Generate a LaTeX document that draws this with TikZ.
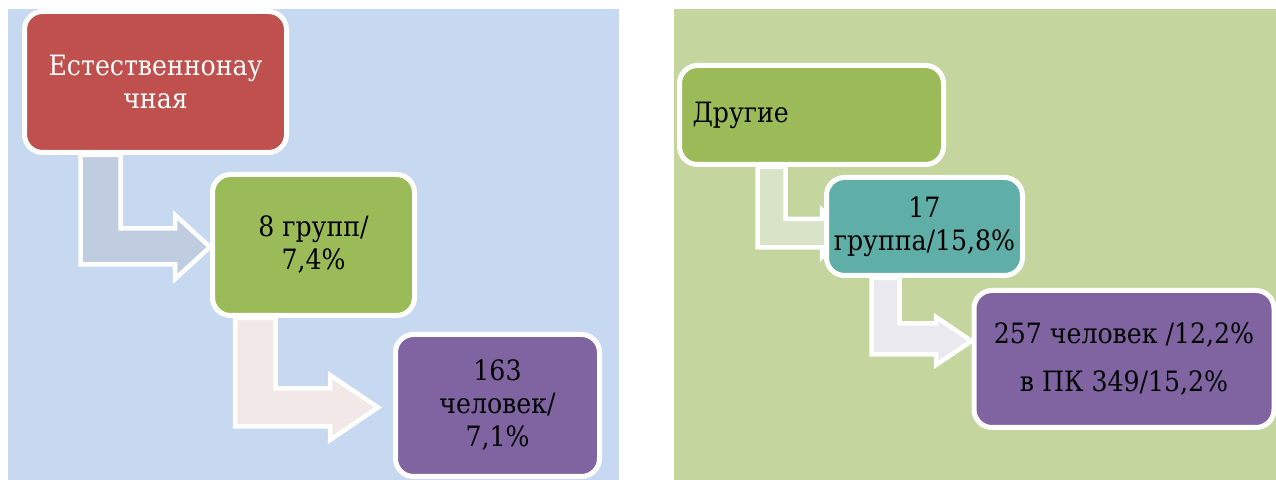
\documentclass[tikz,border=0pt]{standalone}
\usepackage{fontspec}
\setmainfont{DejaVu Serif}
\newfontfamily\boxfont{DejaVu Serif Condensed}
\usetikzlibrary{backgrounds}
\definecolor{leftbg}{RGB}{198,217,240}
\definecolor{rightbg}{RGB}{196,214,158}
\definecolor{boxred}{RGB}{192,80,77}
\definecolor{boxgreen}{RGB}{155,187,89}
\definecolor{boxpurple}{RGB}{128,100,162}
\definecolor{boxteal}{RGB}{95,174,167}
\definecolor{arrowblue}{RGB}{192,205,225}
\definecolor{arrowpink}{RGB}{242,232,232}
\definecolor{arrowgreen}{RGB}{216,227,200}
\definecolor{arrowlilac}{RGB}{235,233,240}
\tikzset{
  box/.style={draw=white, line width=2.5pt, rounded corners=9pt, align=center,
    font=\boxfont\fontsize{14}{16.5}\selectfont},
  blockarrow/.style={draw=white, line width=2.25pt, line join=miter},
}
\begin{document}
\begin{tikzpicture}[x=0.5pt, y=-0.5pt]
\useasboundingbox (0,0) rectangle (1276,480);
% Draw the boxes
        \node[box, fill=boxred, text=white, minimum width=131pt, minimum height=70.5pt] (nat) at (155.5,82) {Естественнонау\\чная};
        \node[box, fill=boxgreen, minimum width=101pt, minimum height=70.5pt] (natgr) at (313.5,245) {8 групп/\\7,4\%};
        \node[box, fill=boxpurple, minimum width=102pt, minimum height=71pt] (natppl) at (497.5,405.5) {163\\человек/\\7,1\%};
        \node[box, fill=boxgreen, align=left, text width=119pt, inner xsep=6.5pt, minimum height=49.5pt] (oth) at (811.5,115) {Другие};
        \node[box, fill=boxteal, minimum width=98pt, minimum height=49pt] (othgr) at (924.5,226.5) {17\\группа/15,8\%};
        \node[box, fill=boxpurple, minimum width=150pt, minimum height=68.5pt] (othppl) at (1124,359) {257 человек /12,2\%\\[7.5pt]в ПК 349/15,2\%};
% Draw the panels and arrows behind the boxes
\begin{scope}[on background layer]
        \fill[leftbg] (8,9) rectangle (619,480);
        \fill[rightbg] (674,9) rectangle (1276,480);
        \draw[blockarrow, fill=arrowblue] (80.5,0 |- nat.south) -- (80.5,264.5) -- (175,264.5) -- (175,279)
        -- ([yshift=-1pt]natgr.west) -- (175,215) -- (175,228.5) -- (120.5,228.5) -- (120.5,0 |- nat.south) -- cycle;
        \draw[blockarrow, fill=arrowpink] (235,0 |- natgr.south) -- (235,426.5) -- (330,426.5) -- (330,440)
        -- ([xshift=-7.5pt,yshift=-1pt]natppl.west) -- (330,375) -- (330,388.5) -- (275.5,388.5) -- (275.5,0 |- natgr.south) -- cycle;
        \draw[blockarrow, fill=arrowgreen] (757.5,0 |- oth.south) -- (757.5,247.5) -- (822,247.5) -- (822,257)
        -- ([xshift=12pt,yshift=-3.3pt]othgr.west) -- (822,210) -- (822,219) -- (785.5,219) -- (785.5,0 |- oth.south) -- cycle;
        \draw[blockarrow, fill=arrowlilac] (871.5,0 |- othgr.south) -- (871.5,354.5) -- (936,354.5) -- (936,365)
        -- ([yshift=9pt]othppl.west) -- (936,317) -- (936,323.5) -- (899.5,323.5) -- (899.5,0 |- othgr.south) -- cycle;
\end{scope}
\end{tikzpicture}
\end{document}
